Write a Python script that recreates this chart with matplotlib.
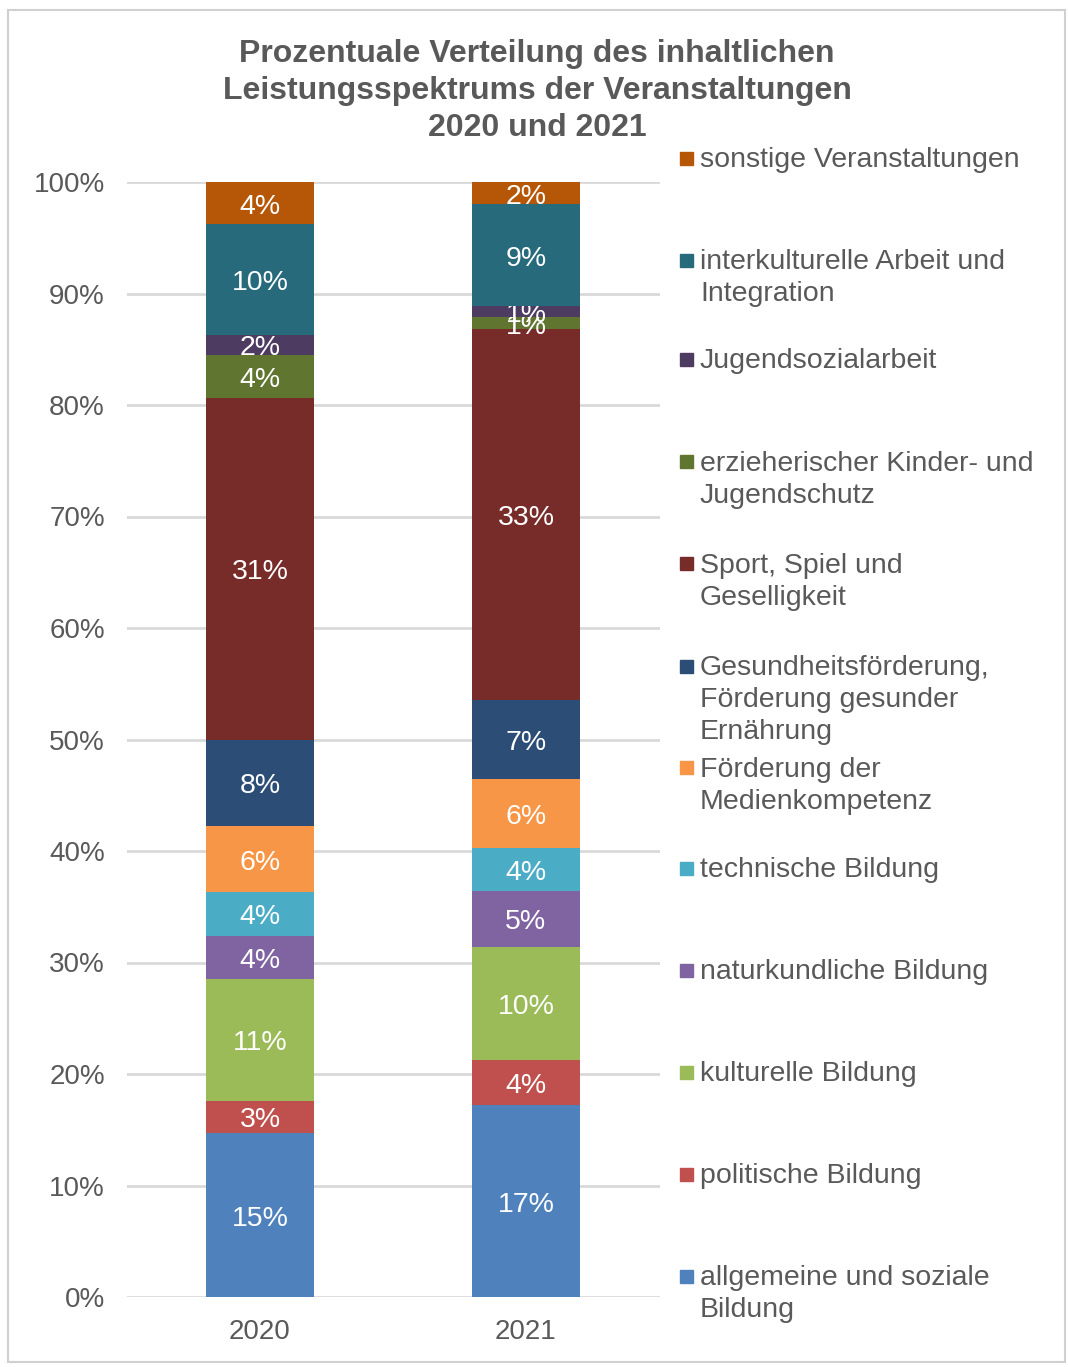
import matplotlib
matplotlib.use("Agg")
import matplotlib.pyplot as plt
from matplotlib.patches import Rectangle

plt.rcParams['font.family'] = ['Liberation Sans', 'DejaVu Sans']

years = ['2020', '2021']

# stacking order, bottom to top
categories = [
    'allgemeine und soziale\nBildung',
    'politische Bildung',
    'kulturelle Bildung',
    'naturkundliche Bildung',
    'technische Bildung',
    'Förderung der\nMedienkompetenz',
    'Gesundheitsförderung,\nFörderung gesunder\nErnährung',
    'Sport, Spiel und\nGeselligkeit',
    'erzieherischer Kinder- und\nJugendschutz',
    'Jugendsozialarbeit',
    'interkulturelle Arbeit und\nIntegration',
    'sonstige Veranstaltungen',
]
colors = ['#4F81BD', '#C0504D', '#9BBB59', '#8064A2', '#4BACC6', '#F79646',
          '#2C4D75', '#772C2A', '#5F7530', '#4D3B62', '#276A7C', '#B65708']

share_2020 = [14.7, 2.9, 10.9, 3.9, 3.9, 5.9, 7.8, 30.6, 3.9, 1.8, 9.9, 3.8]
share_2021 = [17.2, 4.1, 10.1, 5.0, 3.9, 6.2, 7.0, 33.3, 1.1, 1.0, 9.1, 2.0]

grey = '#595959'

fig = plt.figure(figsize=(10.68, 13.67), dpi=100)
H = 1367.0
W = 1068.0

fig.patches.append(Rectangle((8 / W, 1 - 1362 / H), 1057 / W, 1352 / H,
                             transform=fig.transFigure, fill=False,
                             edgecolor='#d0d0d0', linewidth=1.5))

ax = fig.add_axes([127 / W, 1 - 1297 / H, 533 / W, 1115 / H])

x = range(len(years))
bottoms = [0.0, 0.0]
for cat, col, v20, v21 in zip(categories, colors, share_2020, share_2021):
    vals = [v20, v21]
    bars = ax.bar(x, vals, width=0.406, bottom=bottoms, color=col,
                  edgecolor='none', zorder=3)
    labels = [f"{round(v)}%" for v in vals]
    anns = ax.bar_label(bars, labels=labels, label_type='center',
                        color='white', fontsize=20.5)
    for a in anns:
        a.xyann = (0, -2.5)
    bottoms = [b + v for b, v in zip(bottoms, vals)]

ax.set_xlim(-0.5, 1.504)
ax.set_ylim(0, 100)
ax.set_yticks(range(0, 101, 10))
ax.set_yticklabels([f"{t}%" for t in range(0, 101, 10)])
ax.set_xticks(list(x))
ax.set_xticklabels(years)
ax.tick_params(axis='both', length=0, labelsize=20, labelcolor=grey)
ax.tick_params(axis='y', pad=16)
ax.tick_params(axis='x', pad=16)
ax.grid(axis='y', color='#d9d9d9', linewidth=2, zorder=0)
for s in ax.spines.values():
    s.set_visible(False)

# title
fig.text(537 / W, 1 - 91 / H,
         'Prozentuale Verteilung des inhaltlichen\n'
         'Leistungsspektrums der Veranstaltungen\n2020 und 2021',
         ha='center', va='center', fontsize=23, fontweight='bold',
         color=grey, linespacing=1.3)

# legend (top to bottom = reverse stacking order)
legend_y = [158, 260, 359, 462, 564, 666, 768, 868, 970, 1072, 1174, 1276]
for cat, col, yc in zip(categories[::-1], colors[::-1], legend_y):
    fig.patches.append(Rectangle((680 / W, 1 - (yc + 6.5) / H), 13 / W, 13 / H,
                                 transform=fig.transFigure, color=col))
    fig.text(700 / W, 1 - (yc - 11) / H, cat, ha='left', va='top',
             fontsize=20.5, color=grey, linespacing=1.31)

fig.savefig('out.png', dpi=100)
